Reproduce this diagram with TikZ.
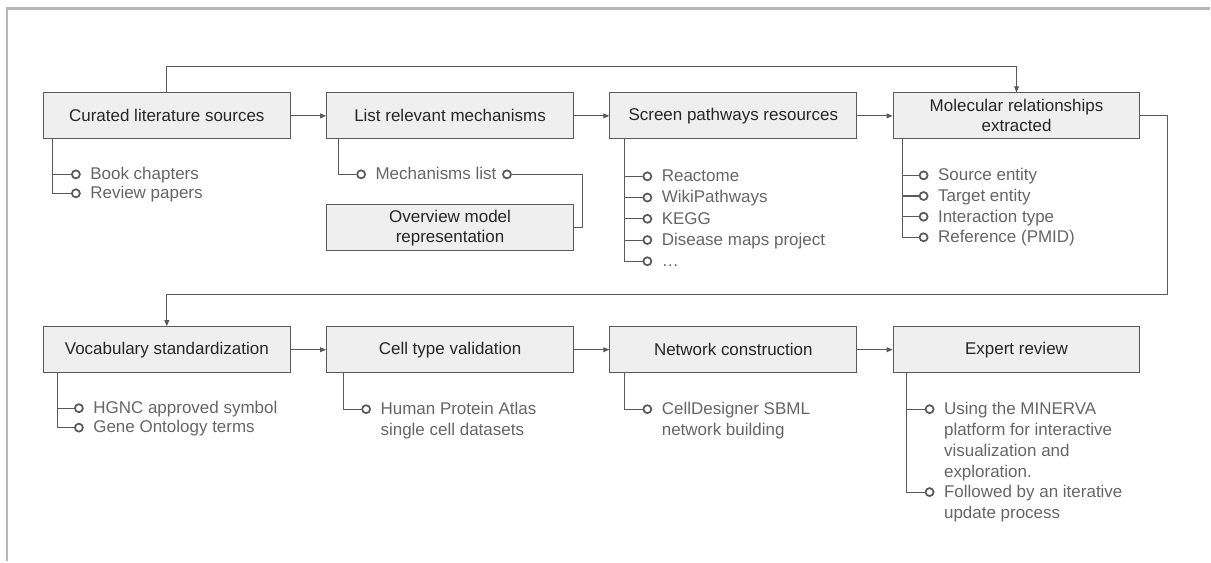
\documentclass[tikz,border=0pt]{standalone}
\usepackage{fontspec}
\setmainfont{Liberation Sans}
\usepackage{tikz}
\definecolor{StepFill}{HTML}{EFEFEF}
\definecolor{LineGray}{HTML}{595959}
\definecolor{NoteGray}{HTML}{656565}
\definecolor{FrameGray}{HTML}{B7B7B7}
\usetikzlibrary{calc}
\usetikzlibrary{positioning}
\usetikzlibrary{arrows.meta}
% lines of a note, aligned on the first one
\newcommand{\notestack}[1]{\begin{tabular}[t]{@{}l@{}}#1\end{tabular}}

\begin{document}
\begin{tikzpicture}[x=0.75pt, y=-0.75pt,
    font=\fontsize{12.75}{15}\selectfont,
    node distance=26.6pt and 26.6pt,
    >={Triangle[length=4.5pt,width=3.6pt]},
    stepbox/.style={shape=rectangle,
      draw=LineGray,
      fill=StepFill,
      line width=0.8pt,
      minimum width=185.25pt,
      minimum height=34.5pt,
      inner sep=2pt,
      align=center,
      text=black!85},
    dot/.style={shape=circle,
      draw=LineGray,
      fill=white,
      line width=1.3pt,
      minimum size=6pt,
      inner sep=0pt},
    note/.style={text=NoteGray,
      inner sep=0pt,
      anchor=base west,
      yshift=-4pt,
      font=\fontsize{12.75}{15.75}\selectfont},
    link/.style={draw=LineGray, line width=0.8pt}]

    % frame
    \draw[FrameGray, line width=1.9pt] (7,562) -- (7,8.5) -- (1211,8.5);

    % top row
    \node[name=lit, stepbox] at (167,116) {Curated literature sources};
    \node[name=mech, stepbox, right=of lit] {List relevant mechanisms};
    \node[name=screen, stepbox, right=of mech] {Screen pathways resources};
    \node[name=mol, stepbox, right=of screen] {Molecular relationships\\extracted};
    \node[name=overview, stepbox, below=48.75pt of mech] {Overview model\\representation};

    % bottom row
    \node[name=vocab, stepbox, below=140.25pt of lit] {Vocabulary standardization};
    \node[name=cell, stepbox, right=of vocab] {Cell type validation};
    \node[name=net, stepbox, right=of cell] {Network construction};
    \node[name=expert, stepbox, right=of net] {Expert review};

    \path (lit) edge[link, ->] (mech);
    \path (mech) edge[link, ->] (screen);
    \path (screen) edge[link, ->] (mol);
    \path (vocab) edge[link, ->] (cell);
    \path (cell) edge[link, ->] (net);
    \path (net) edge[link, ->] (expert);
    \draw[link, ->] (lit.north) -- ++(0,-26) -| (mol.north);
    \draw[link, ->] (mol.east) -- ++(27,0) |- ($(vocab.north)+(0,-32)$) -- (vocab.north);

    % literature sources
    \coordinate (litstem) at ($(lit.south west)+(10,0)$);
    \node[name=lit1, dot] at ($(lit.south west)+(33,35)$) {};
    \node[name=lit2, dot] at ($(lit.south west)+(33,54)$) {};
    \node[name=lit1txt, right=7pt of lit1, note] {Book chapters};
    \node[name=lit2txt, right=7pt of lit2, note] {Review papers};
    \draw[link] (litstem) |- (lit1);
    \draw[link] (litstem) |- (lit2);

    % mechanisms
    \coordinate (mechstem) at ($(mech.south west)+(12,0)$);
    \node[name=mech1, dot] at ($(mech.south west)+(35,35)$) {};
    \node[name=mech1txt, right=7pt of mech1, note] {Mechanisms list};
    \node[name=mech2, dot] at ($(mech1)+(146,0)$) {};
    \draw[link] (mechstem) |- (mech1);
    \draw[link] (mech2) -- ++(76,0) |- (overview.east);

    % pathway resources
    \coordinate (screenstem) at ($(screen.south west)+(15,0)$);
    \node[name=screen1, dot] at ($(screen.south west)+(38,37)$) {};
    \node[name=screen2, dot] at ($(screen.south west)+(38,58.25)$) {};
    \node[name=screen3, dot] at ($(screen.south west)+(38,79.5)$) {};
    \node[name=screen4, dot] at ($(screen.south west)+(38,100.75)$) {};
    \node[name=screen5, dot] at ($(screen.south west)+(38,122)$) {};
    \node[name=screen1txt, right=7pt of screen1, note] {Reactome};
    \node[name=screen2txt, right=7pt of screen2, note] {WikiPathways};
    \node[name=screen3txt, right=7pt of screen3, note] {KEGG};
    \node[name=screen4txt, right=7pt of screen4, note] {Disease maps project};
    \node[name=screen5txt, right=7pt of screen5, note] {\dots};
    \draw[link] (screenstem) |- (screen1);
    \draw[link] (screenstem) |- (screen2);
    \draw[link] (screenstem) |- (screen3);
    \draw[link] (screenstem) |- (screen4);
    \draw[link] (screenstem) |- (screen5);

    % relationships
    \coordinate (molstem) at ($(mol.south west)+(10,0)$);
    \node[name=mol1, dot] at ($(mol.south west)+(31,36)$) {};
    \node[name=mol2, dot] at ($(mol.south west)+(31,56.7)$) {};
    \node[name=mol3, dot] at ($(mol.south west)+(31,77.4)$) {};
    \node[name=mol4, dot] at ($(mol.south west)+(31,98)$) {};
    \node[name=mol1txt, right=7pt of mol1, note] {Source entity};
    \node[name=mol2txt, right=7pt of mol2, note] {Target entity};
    \node[name=mol3txt, right=7pt of mol3, note] {Interaction type};
    \node[name=mol4txt, right=7pt of mol4, note] {Reference (PMID)};
    \draw[link] (molstem) |- (mol1);
    \draw[link] (molstem) |- (mol2);
    \draw[link] (molstem) |- (mol3);
    \draw[link] (molstem) |- (mol4);

    % vocabulary
    \coordinate (vocabstem) at ($(vocab.south west)+(15,0)$);
    \node[name=vocab1, dot] at ($(vocab.south west)+(36,35)$) {};
    \node[name=vocab2, dot] at ($(vocab.south west)+(36,54.5)$) {};
    \node[name=vocab1txt, right=7pt of vocab1, note] {HGNC approved symbol};
    \node[name=vocab2txt, right=7pt of vocab2, note] {Gene Ontology terms};
    \draw[link] (vocabstem) |- (vocab1);
    \draw[link] (vocabstem) |- (vocab2);

    % cell types
    \coordinate (cellstem) at ($(cell.south west)+(17,0)$);
    \node[name=cell1, dot] at ($(cell.south west)+(40,36)$) {};
    \node[name=cell1txt, right=7pt of cell1, note] {\notestack{Human Protein Atlas\\single cell datasets}};
    \draw[link] (cellstem) |- (cell1);

    % network
    \coordinate (netstem) at ($(net.south west)+(15,0)$);
    \node[name=net1, dot] at ($(net.south west)+(38,36)$) {};
    \node[name=net1txt, right=7pt of net1, note] {\notestack{CellDesigner SBML\\network building}};
    \draw[link] (netstem) |- (net1);

    % review
    \coordinate (expertstem) at ($(expert.south west)+(14,0)$);
    \node[name=expert1, dot] at ($(expert.south west)+(37,36)$) {};
    \node[name=expert2, dot] at ($(expert.south west)+(37,119)$) {};
    \node[name=expert1txt, right=7pt of expert1, note] {\notestack{Using the MINERVA\\platform for interactive\\visualization and\\exploration.}};
    \node[name=expert2txt, right=7pt of expert2, note] {\notestack{Followed by an iterative\\update process}};
    \draw[link] (expertstem) |- (expert1);
    \draw[link] (expertstem) |- (expert2);

    \path [use as bounding box] (0,0) rectangle (1211,562);
  \end{tikzpicture}
\end{document}
